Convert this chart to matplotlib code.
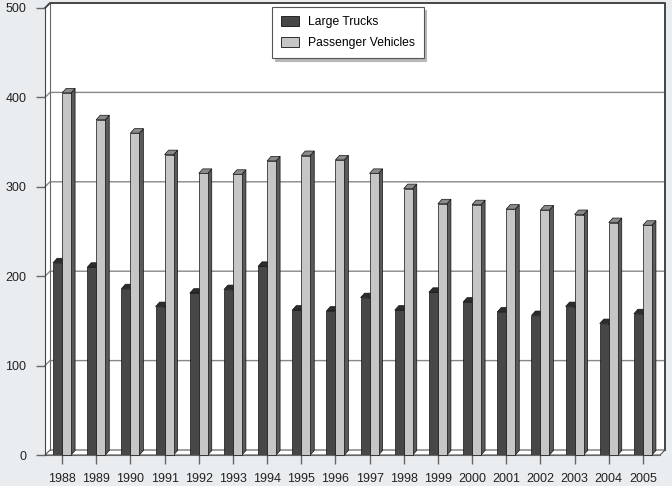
import matplotlib.pyplot as plt
from matplotlib.patches import Polygon, Patch

plt.rcParams['font.family'] = ['Liberation Sans', 'DejaVu Sans']

# data
years = ['1988', '1989', '1990', '1991', '1992', '1993', '1994', '1995', '1996',
         '1997', '1998', '1999', '2000', '2001', '2002', '2003', '2004', '2005']
trucks = [215, 210, 186, 166, 181, 185, 211, 162, 161,
          176, 162, 182, 171, 160, 156, 166, 147, 158]
passenger = [405, 375, 360, 336, 315, 314, 329, 335, 330,
             315, 298, 281, 280, 275, 274, 269, 260, 257]

W, H = 672, 486
fig = plt.figure(figsize=(W / 100, H / 100), dpi=100, facecolor='#e9edf0')
# front frame of the pseudo-3d plot: x 45..660 px, y 455..8 px
ax = fig.add_axes([45 / W, (H - 455) / H, 615 / W, 447 / H])
n = len(years)
xmin, xmax = -0.5, n - 0.5
ymax = 500
ax.set_xlim(xmin, xmax)
ax.set_ylim(0, ymax)
ax.patch.set_visible(False)

# pixel -> data units
ux = (xmax - xmin) / 615
uy = ymax / 447
wall_dx, wall_dy = 5 * ux, 5 * uy
bar_dx, bar_dy = 4 * ux, 4.5 * uy
bar_w = 9 * ux


def poly(pts, fc, ec='none', lw=0.0, z=1):
    ax.add_patch(Polygon(pts, closed=True, facecolor=fc, edgecolor=ec,
                         linewidth=lw, zorder=z, clip_on=False))


# back wall, left wall, floor
poly([(xmin + wall_dx, wall_dy), (xmax + wall_dx, wall_dy),
      (xmax + wall_dx, ymax + wall_dy), (xmin + wall_dx, ymax + wall_dy)], 'white', z=0)
poly([(xmin, 0), (xmin + wall_dx, wall_dy), (xmin + wall_dx, ymax + wall_dy),
      (xmin, ymax)], 'white', z=0)
poly([(xmin, 0), (xmax, 0), (xmax + wall_dx, wall_dy), (xmin + wall_dx, wall_dy)],
     'white', ec='#555555', lw=0.8, z=0.6)

# wall edges
ax.plot([xmin + wall_dx, xmin + wall_dx], [wall_dy, ymax + wall_dy], color='#666666',
        lw=0.8, zorder=0.7, clip_on=False)
ax.plot([xmin, xmin + wall_dx, xmax + wall_dx, xmax + wall_dx],
        [ymax, ymax + wall_dy, ymax + wall_dy, wall_dy], color='#444444',
        lw=1.4, zorder=0.7, clip_on=False)

# gridlines on back wall + left wall diagonals
yticks = [0, 100, 200, 300, 400, 500]
for v in yticks[1:-1]:
    ax.plot([xmin, xmin + wall_dx, xmax + wall_dx], [v, v + wall_dy, v + wall_dy],
            color='#888888', lw=1.0, zorder=0.5, clip_on=False)


def bar3d(left, h, front, top, side, z):
    r = left + bar_w
    poly([(r, 0), (r + bar_dx, bar_dy), (r + bar_dx, h + bar_dy), (r, h)],
         side, ec='#111111', lw=0.5, z=z)
    poly([(left, h), (r, h), (r + bar_dx, h + bar_dy), (left + bar_dx, h + bar_dy)],
         top, ec='#111111', lw=0.5, z=z)
    poly([(left, 0), (r, 0), (r, h), (left, h)], front, ec='#111111', lw=0.5, z=z)


for i in range(n):
    bar3d(i - bar_w, trucks[i], '#474747', '#2c2c2c', '#333333', 2 + i * 0.01)
for i in range(n):
    bar3d(i, passenger[i], '#c6c6c6', '#8a8a8a', '#5a5a5a', 3 + i * 0.01)

# axes
for s in ['top', 'right']:
    ax.spines[s].set_visible(False)
ax.spines['left'].set_color('#444444')
ax.spines['bottom'].set_color('#666666')
ax.spines['left'].set_zorder(5)
ax.set_yticks(yticks)
ax.set_xticks(range(n))
ax.set_xticklabels(years)
ax.tick_params(axis='y', length=6.5, width=1, color='#666666', pad=7,
               labelsize=9, labelcolor='#222222')
ax.tick_params(axis='x', length=6.5, width=1, color='#666666', pad=6.5,
               labelsize=9, labelcolor='#222222')

handles = [Patch(facecolor='#474747', edgecolor='#111111', lw=0.6, label='Large Trucks'),
           Patch(facecolor='#c6c6c6', edgecolor='#111111', lw=0.6, label='Passenger Vehicles')]
leg = ax.legend(handles=handles, loc='upper left', bbox_to_anchor=(272 / W, 1 - 7 / H),
                bbox_transform=fig.transFigure, borderaxespad=0, fancybox=False,
                framealpha=1, edgecolor='#555555', fontsize=8.7, handlelength=1.5,
                handleheight=0.9, labelspacing=0.7, borderpad=0.75, handletextpad=0.7,
                shadow={'color': '#b8b8b8', 'alpha': 1})
leg.get_frame().set_linewidth(0.8)
leg.set_zorder(10)

fig.savefig('out.png', dpi=100, facecolor=fig.get_facecolor())
